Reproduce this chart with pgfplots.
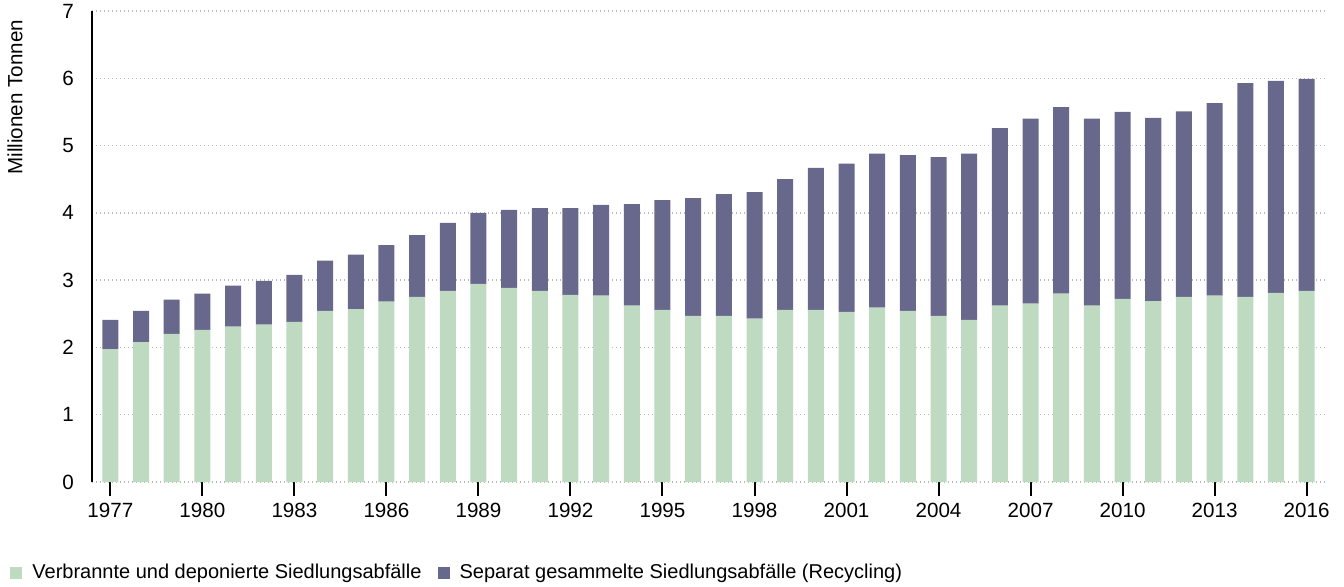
\documentclass[border=0pt]{standalone}
\usepackage{fontspec}
\setmainfont{Liberation Sans}
\usepackage{pgfplots}
\usepackage{pgfplotstable}
\pgfplotsset{compat=1.18}
\definecolor{cgreen}{HTML}{BEDAC0}
\definecolor{cpurple}{HTML}{68688C}
\pgfplotstableread{
year green recyc
1977 1.97 0.44
1978 2.08 0.465
1979 2.20 0.51
1980 2.26 0.54
1981 2.31 0.61
1982 2.34 0.65
1983 2.38 0.70
1984 2.545 0.745
1985 2.57 0.81
1986 2.68 0.84
1987 2.75 0.92
1988 2.84 1.01
1989 2.945 1.055
1990 2.886 1.16
1991 2.84 1.23
1992 2.78 1.29
1993 2.77 1.35
1994 2.62 1.51
1995 2.56 1.63
1996 2.47 1.75
1997 2.47 1.81
1998 2.43 1.88
1999 2.56 1.94
2000 2.56 2.11
2001 2.53 2.20
2002 2.59 2.29
2003 2.545 2.315
2004 2.47 2.36
2005 2.41 2.47
2006 2.62 2.64
2007 2.65 2.75
2008 2.80 2.77
2009 2.62 2.78
2010 2.72 2.78
2011 2.69 2.72
2012 2.75 2.76
2013 2.77 2.86
2014 2.75 3.18
2015 2.81 3.15
2016 2.84 3.15
}\datatable
\begin{document}
\begin{tikzpicture}[font=\fontsize{10.3}{12}\selectfont]
\useasboundingbox (-46pt,-52pt) rectangle (626pt,241pt);
\begin{axis}[
  at={(0,0)}, anchor=south west,
  scale only axis,
  width=616.5pt, height=235.5pt,
  ybar stacked,
  bar width=8pt,
  xmin=1976.4, xmax=2016.6,
  ymin=0, ymax=7,
  xtick={1977,1980,...,2016},
  ytick={0,1,...,7},
  /pgf/number format/assume math mode=true,
  x tick label style={/pgf/number format/1000 sep={}},
  tick label style={font=\fontsize{10.3}{12}\selectfont},
  axis x line*=bottom,
  axis y line*=left,
  x axis line style={draw=none},
  y axis line style={black, line width=1pt, -},
  tick align=outside,
  major tick length=7pt,
  xtick style={black, line width=1pt},
  ytick style={draw=none},
  yticklabel style={xshift=1.5pt},
  ymajorgrids,
  major grid style={gray!55, line width=0.7pt, dash pattern=on 0.7pt off 1.3pt},
  legend style={at={(0,0)}, anchor=west, xshift=-41pt, yshift=-45.5pt, draw=none, fill=none,
    legend columns=2, inner sep=0pt, font=\fontsize{10}{12}\selectfont,
    /tikz/every odd column/.append style={column sep=3pt},
    /tikz/every even column/.append style={column sep=6pt}},
  legend image code/.code={\fill[#1, draw=none] (0pt,-3pt) rectangle (6pt,3pt);},
  legend cell align=left,
]
\addplot[fill=cgreen, draw=none] table[x=year, y=green] {\datatable};
\addlegendentry{Verbrannte und deponierte Siedlungsabfälle}
\addplot[fill=cpurple, draw=none] table[x=year, y=recyc] {\datatable};
\addlegendentry{Separat gesammelte Siedlungsabfälle (Recycling)}
\end{axis}
\node[rotate=90, anchor=east] at (-38.5pt,234.5pt) {Millionen Tonnen};
\end{tikzpicture}
\end{document}
